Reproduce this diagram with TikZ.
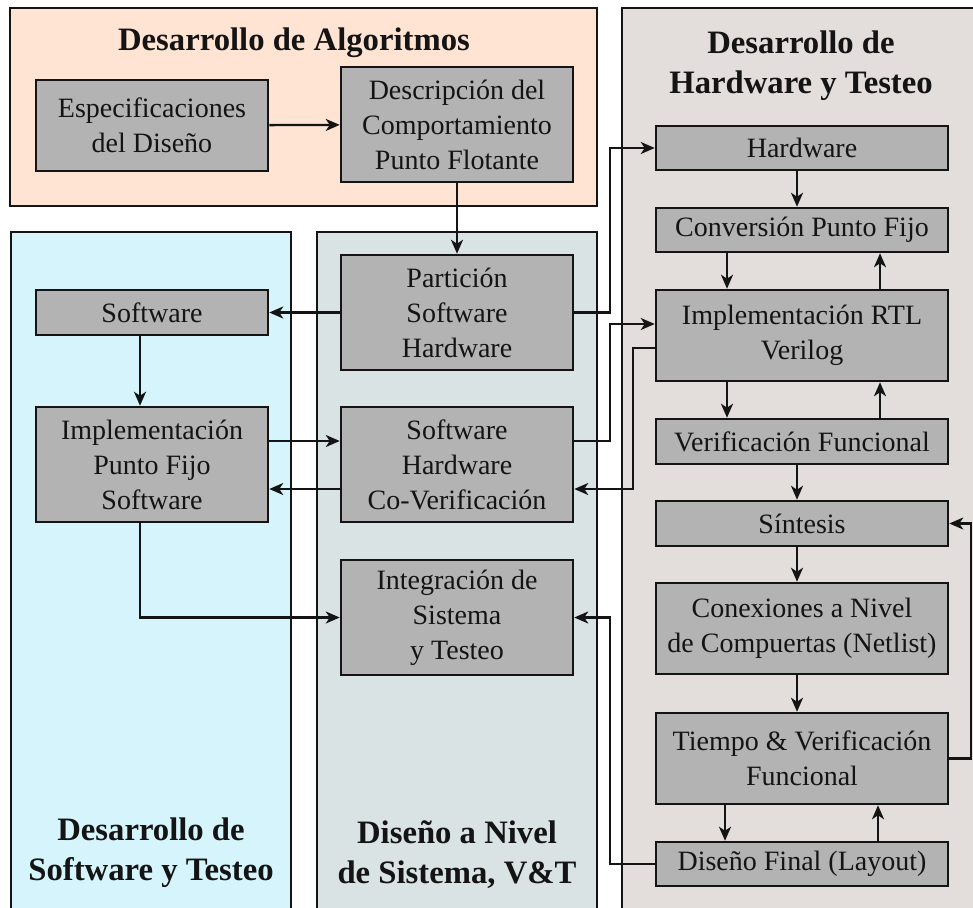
\documentclass[tikz,border=0pt]{standalone}
\usepackage{fontspec}
\setmainfont{Liberation Serif}
\usetikzlibrary{arrows.meta}
\definecolor{algofill}{RGB}{255,228,212}
\definecolor{swfill}{RGB}{213,244,252}
\definecolor{sysfill}{RGB}{218,227,227}
\definecolor{hwfill}{RGB}{227,222,219}
\definecolor{boxfill}{RGB}{179,179,179}
\definecolor{ink}{RGB}{20,20,20}
\begin{document}
\begin{tikzpicture}[x=1pt,y=-1pt,
  panel/.style={draw=ink,line width=2pt},
  block/.style={draw=ink,fill=boxfill,line width=2.5pt,align=center,inner sep=0pt,
    font=\fontsize{28}{35}\selectfont,text=ink},
  lblock/.style={block,minimum width=232pt},
  rblock/.style={block,minimum width=292pt},
  paneltitle/.style={align=center,font=\fontsize{32.7}{40}\selectfont\bfseries,text=ink},
  wire/.style={draw=ink,line width=2.3pt},
  arr/.style={wire,-{Stealth[length=14pt,width=12pt,inset=4pt]}},
]
\useasboundingbox (0,0) rectangle (973,907);
\clip (0,0) rectangle (973,907);
\fill[white] (0,0) rectangle (973,907);

% panels
\draw[panel,fill=algofill] (10,8) rectangle (597,206);
\draw[panel,fill=swfill] (11,232) rectangle (291,930);
\draw[panel,fill=sysfill] (317,232) rectangle (597,930);
\draw[panel,fill=hwfill] (622,8) rectangle (990,930);

% panel titles
\node[paneltitle] (tAlg) at (294,42.5) {Desarrollo de Algoritmos};
\node[paneltitle] (tHw) at (801,65.5) {Desarrollo de\\Hardware y Testeo};
\node[paneltitle] (tSw) at (151,852.5) {Desarrollo de\\Software y Testeo};
\node[paneltitle] (tSys) at (457,854.5) {Diseño a Nivel\\de Sistema, V\&T};

% algorithm and system-level blocks
\node[lblock,minimum height=91pt] (espec) at (152,125.5) {Especificaciones\\del Diseño};
\node[lblock,minimum height=115pt] (desc) at (457,124.5) {Descripción del\\Comportamiento\\Punto Flotante};
\node[lblock,minimum height=115pt] (part) at (457,312.5) {Partición\\Software\\Hardware};
\node[lblock,minimum height=45pt] (sw) at (152,312.5) {Software};
\node[lblock,minimum height=115pt] (impsw) at (152,464.5) {Implementación\\Punto Fijo\\Software};
\node[lblock,minimum height=115pt] (cover) at (457,464.5) {Software\\Hardware\\Co-Verificación};
\node[lblock,minimum height=115pt] (integ) at (457,617.5) {Integración de\\Sistema\\y Testeo};

% hardware flow blocks
\node[rblock,minimum height=44pt] (hw) at (802,148) {Hardware};
\node[rblock,minimum height=44pt] (conv) at (802,230) {Conversión Punto Fijo};
\node[rblock,minimum height=91pt] (rtl) at (802,335.5) {Implementación RTL\\Verilog};
\node[rblock,minimum height=45pt] (verif) at (802,441.5) {Verificación Funcional};
\node[rblock,minimum height=45pt] (sint) at (802,523.5) {Síntesis};
\node[rblock,minimum height=91pt] (conex) at (802,628.5) {Conexiones a Nivel\\de Compuertas (Netlist)};
\node[rblock,minimum height=91pt] (tiempo) at (802,758.5) {Tiempo \& Verificación\\Funcional};
\node[rblock,minimum height=44pt] (final) at (802,864) {Diseño Final (Layout)};

% routing columns and rows
\coordinate (xs) at (140,0);
\coordinate (xm) at (797,0);
\coordinate (xl) at (727,0);
\coordinate (xr) at (880,0);
\coordinate (xl2) at (725,0);
\coordinate (xr2) at (878,0);
\coordinate (j1) at (610,0);
\coordinate (j2) at (633,0);
\coordinate (j3) at (971,0);
\coordinate (yA) at (0,441);
\coordinate (yB) at (0,489);
\coordinate (yC) at (0,324);
\coordinate (yD) at (0,348);

% connectors
\draw[arr] (espec) -- (desc);
\draw[arr] (desc) -- (part);
\draw[arr] (part) -- (sw);
\draw[arr] (sw.south -| xs) -- (impsw.north -| xs);
\draw[arr] (impsw.east |- yA) -- (cover.west |- yA);
\draw[arr] (cover.west |- yB) -- (impsw.east |- yB);
\draw[arr] (impsw.south -| xs) |- (integ.west);
\draw[arr] (part.east) -| (j1 |- hw.west) -- (hw.west);
\draw[arr] (cover.east |- yA) -| (j1 |- yC) -- (rtl.west |- yC);
\draw[arr] (rtl.west |- yD) -| (j2 |- yB) -- (cover.east |- yB);
\draw[arr] (final.west) -| (j1 |- integ.east) -- (integ.east);
\draw[arr] (tiempo.east) -| (j3 |- sint.east) -- (sint.east);

\draw[arr] (hw.south -| xm) -- (conv.north -| xm);
\draw[arr] (conv.south -| xl) -- (rtl.north -| xl);
\draw[arr] (rtl.north -| xr) -- (conv.south -| xr);
\draw[arr] (rtl.south -| xl) -- (verif.north -| xl);
\draw[arr] (verif.north -| xr) -- (rtl.south -| xr);
\draw[arr] (verif.south -| xm) -- (sint.north -| xm);
\draw[arr] (sint.south -| xm) -- (conex.north -| xm);
\draw[arr] (conex.south -| xm) -- (tiempo.north -| xm);
\draw[arr] (tiempo.south -| xl2) -- (final.north -| xl2);
\draw[arr] (final.north -| xr2) -- (tiempo.south -| xr2);
\end{tikzpicture}
\end{document}
